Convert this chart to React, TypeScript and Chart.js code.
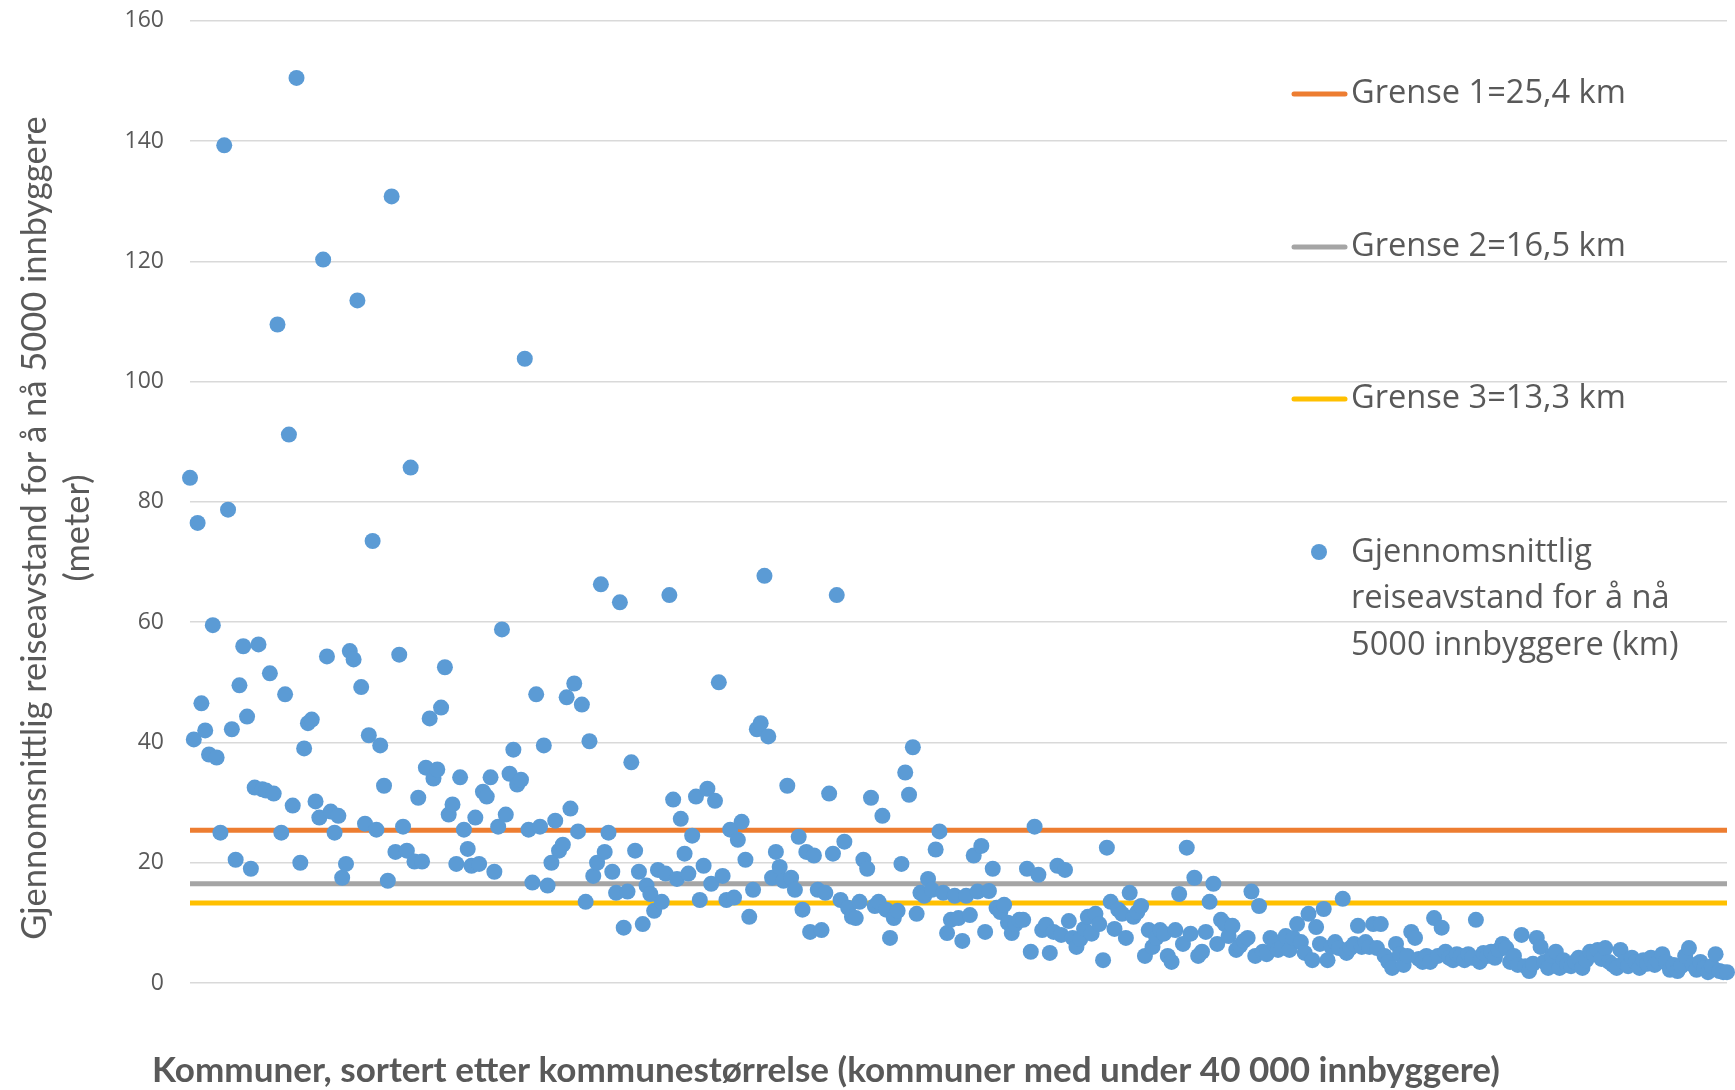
import React, { useEffect, useRef } from "react";
import { Chart, registerables } from "chart.js";

Chart.register(...registerables);

// Average travel distance (km) to reach 5000 inhabitants, municipalities sorted by size
const valuesA = [
  84, 40.5, 76.5, 46.5, 42, 38, 59.5, 37.5, 25, 139.3,
  78.7, 42.2, 20.5, 49.5, 56, 44.3, 19, 32.5, 56.3, 32.2,
  32, 51.5, 31.5, 109.5, 25, 48, 91.2, 29.5, 150.5, 20,
  39, 43.2, 43.8, 30.2, 27.5, 120.3, 54.3, 28.5, 25, 27.8,
  17.5, 19.8, 55.2, 53.8, 113.5, 49.2, 26.5,
];
const valuesB = [
  41.2, 73.5, 25.5, 39.5, 32.8, 17, 130.8, 21.8, 54.6, 26,
  22, 85.7, 20.2, 30.8, 20.2, 35.8, 44, 34, 35.5, 45.8,
  52.5, 28, 29.7, 19.8, 34.2, 25.5, 22.3, 19.5, 27.5, 19.8,
  31.8, 31, 34.2, 18.5, 26, 58.8, 28, 34.8, 38.8, 33,
  33.8, 103.8, 25.5, 16.7, 48, 26, 39.5, 16.2,
];
const valuesC = [
  20, 27, 22, 23, 47.5, 29, 49.8, 25.2, 46.3, 13.5,
  40.2, 17.8, 20, 66.3, 21.8, 25, 18.5, 15, 63.3, 9.2,
  15.2, 36.7, 22, 18.5, 9.8, 16.2, 14.8, 12, 18.8, 13.5,
  18.2, 64.5, 30.5, 17.3, 27.3, 21.5, 18.2, 24.5, 31, 13.8,
  19.5, 32.3, 16.5, 30.3, 50, 17.8, 13.8, 25.5, 14.2,
];
const valuesD = [
  23.8, 26.8, 20.5, 11, 15.5, 42.2, 43.2, 67.7, 41, 17.5,
  21.8, 19.3, 17, 32.8, 17.5, 15.5, 24.3, 12.2, 21.8, 8.5,
  21.2, 15.5, 8.8, 15, 31.5, 21.5, 64.5, 13.8, 23.5, 12.5,
  11, 10.8, 13.5, 20.5, 19, 30.8, 12.8, 13.5, 27.8, 12.2,
  7.5, 10.8, 12, 19.8, 35, 31.3, 39.2, 11.5, 15,
];
const valuesE = [
  14.5, 17.3, 15.5, 22.2, 25.2, 15, 8.3, 10.5, 14.5, 10.8,
  7, 14.5, 11.3, 21.2, 15.2, 22.8, 8.5, 15.3, 19, 12.5,
  11.8, 13, 10, 8.3, 9.8, 10.5, 10.5, 19, 5.2, 26,
  18, 8.8, 9.7, 5, 8.5, 19.5, 8, 18.8, 10.3, 7.5,
  6, 7.3, 9, 11, 8.2, 11.5, 9.8, 3.8,
];
const valuesF = [
  22.5, 13.5, 9, 12.2, 11.5, 7.5, 15, 11, 11.8, 12.8,
  4.5, 8.8, 6, 7.5, 8.8, 8.2, 4.5, 3.5, 8.8, 14.8,
  6.5, 22.5, 8.2, 17.5, 4.5, 5.2, 8.5, 13.5, 16.5, 6.5,
  10.5, 9.8, 7.8, 9.5, 5.5, 6.2, 7, 7.5, 15.2, 4.5,
  12.8, 5.2, 4.8, 7.5, 6.5, 5.5, 6, 7.8,
];
const valuesG = [
  5.5, 7.5, 9.8, 6.8, 5, 11.5, 3.8, 9.3, 6.5, 12.3,
  3.8, 6, 6.8, 5.8, 14, 5, 5.8, 6.5, 9.5, 6,
  6.8, 6, 9.8, 5.8, 9.8, 4.5, 3.5, 2.5, 6.5, 4.8,
  3, 4.5, 8.5, 7.5, 4, 3.5, 4.5, 3.5, 10.8, 4.5,
  9.2, 5.2, 4.2, 3.8, 4.8, 4.5, 3.8, 4.8, 4.2,
];
const valuesH = [
  10.5, 3.5, 5, 4.5, 5.2, 4.2, 5.5, 6.5, 5.8, 3.5,
  4.5, 3, 8, 2.8, 2, 3.2, 7.5, 6, 3.5, 2.5,
  4.5, 5.2, 2.5, 3.8, 3, 2.8, 3.5, 4.2, 2.5, 3.8,
  5.2, 4.8, 5.5, 4, 5.8, 3.5, 3, 2.5, 5.5, 3.5,
  2.8, 4.2, 3.5, 2.5, 3.8, 3.2, 4.2, 3, 3.5, 4.8,
  3.5, 2.2, 3, 2, 2.8, 4.5, 5.8, 3, 2.2, 3.5,
  2.5, 1.8, 2.8, 4.8, 2, 1.8, 1.8,
];

const distances = [
  ...valuesA, ...valuesB, ...valuesC, ...valuesD,
  ...valuesE, ...valuesF, ...valuesG, ...valuesH,
];

const thresholds = [25.4, 16.5, 13.3];
const thresholdLabels = ["Grense 1=25,4 km", "Grense 2=16,5 km", "Grense 3=13,3 km"];
const thresholdColors = ["#ED7D31", "#A5A5A5", "#FFC000"];
const scatterLabelLines = ["Gjennomsnittlig", "reiseavstand for å nå", "5000 innbyggere (km)"];
const scatterColor = "#5B9BD5";
const yTitleLines = ["Gjennomsnittlig reiseavstand for å nå 5000 innbyggere", "(meter)"];
const xTitle = "Kommuner, sortert etter kommunestørrelse (kommuner med under 40 000 innbyggere)";
const yTicks = [0, 20, 40, 60, 80, 100, 120, 140, 160];

const TEXT = "#595959";
const W = 1735;
const H = 1090;
const SHIFT = 19; // canvas extends above the page top by this much

function fitSize(ctx: CanvasRenderingContext2D, text: string, family: string, weight: string, target: number) {
  ctx.font = `${weight} 100px ${family}`;
  const w = ctx.measureText(text).width;
  return (100 * target) / w;
}

const overlayPlugin = {
  id: "overlay",
  afterDraw(chart: any) {
    const ctx: CanvasRenderingContext2D = chart.ctx;
    ctx.save();
    ctx.translate(0, SHIFT);
    ctx.fillStyle = TEXT;

    // Y axis title (two rotated lines)
    const yFam = "Lato, 'Liberation Sans', sans-serif";
    const ySize = fitSize(ctx, yTitleLines[0], yFam, "normal", 824);
    ctx.font = `normal ${ySize}px ${yFam}`;
    ctx.textAlign = "center";
    ctx.textBaseline = "middle";
    const yCenters = [35, 78];
    yTitleLines.forEach((line, i) => {
      ctx.save();
      ctx.translate(yCenters[i], 528);
      ctx.rotate(-Math.PI / 2);
      ctx.fillText(line, 0, 0);
      ctx.restore();
    });

    // X axis title
    const xSize = fitSize(ctx, xTitle, yFam, "bold", 1348);
    ctx.font = `bold ${xSize}px ${yFam}`;
    ctx.textAlign = "center";
    ctx.fillText(xTitle, 826, 1071);

    // Legend
    const lFam = "'Open Sans', sans-serif";
    const lSize = fitSize(ctx, thresholdLabels[0], lFam, "normal", 275);
    ctx.font = `normal ${lSize}px ${lFam}`;
    ctx.textAlign = "left";
    const rows = [94, 247, 399];
    thresholdLabels.forEach((label, i) => {
      ctx.strokeStyle = thresholdColors[i];
      ctx.lineWidth = 5;
      ctx.lineCap = "round";
      ctx.beginPath();
      ctx.moveTo(1294, rows[i]);
      ctx.lineTo(1345, rows[i]);
      ctx.stroke();
      ctx.fillStyle = TEXT;
      ctx.fillText(label, 1351, rows[i]);
    });
    ctx.fillStyle = scatterColor;
    ctx.beginPath();
    ctx.arc(1319, 552, 8, 0, Math.PI * 2);
    ctx.fill();
    ctx.fillStyle = TEXT;
    const sRows = [553, 599, 646];
    scatterLabelLines.forEach((line, i) => ctx.fillText(line, 1351, sRows[i]));

    ctx.restore();
  },
};

export default function App() {
  const ref = useRef<HTMLCanvasElement | null>(null);

  useEffect(() => {
    document.body.style.margin = "0";
    const canvas = ref.current;
    if (!canvas) return;
    const n = distances.length;
    const chart = new Chart(canvas, {
      type: "scatter",
      data: {
        datasets: [
          {
            label: "Gjennomsnittlig reiseavstand for å nå 5000 innbyggere (km)",
            data: distances.map((v, i) => ({ x: i + 1, y: v })),
            backgroundColor: scatterColor,
            borderColor: scatterColor,
            borderWidth: 0,
            pointRadius: 8,
            pointHoverRadius: 8,
            clip: false as any,
          },
          ...thresholds.map((t, i) => ({
            label: thresholdLabels[i],
            data: [
              { x: 1, y: t },
              { x: n, y: t },
            ],
            showLine: true,
            borderColor: thresholdColors[i],
            backgroundColor: thresholdColors[i],
            borderWidth: 5,
            pointRadius: 0,
            pointHoverRadius: 0,
          })),
        ],
      },
      options: {
        responsive: false,
        animation: false,
        layout: { padding: { top: 2, bottom: 107, left: 0, right: 0 } },
        plugins: {
          legend: { display: false },
          tooltip: { enabled: false },
        },
        scales: {
          x: {
            type: "linear",
            min: 1,
            max: n,
            display: false,
          },
          y: {
            type: "linear",
            min: yTicks[0],
            max: yTicks[yTicks.length - 1],
            afterFit: (scale: any) => {
              scale.width = 190;
            },
            afterBuildTicks: (scale: any) => {
              scale.ticks = yTicks.map((v) => ({ value: v }));
            },
            border: { display: false },
            grid: {
              color: "#D9D9D9",
              lineWidth: 1.6,
              drawTicks: false,
            },
            ticks: {
              padding: 26,
              color: TEXT,
              font: { family: "'Open Sans', sans-serif", size: 23 },
            },
          },
        },
      },
      plugins: [overlayPlugin],
    });
    return () => chart.destroy();
  }, []);

  return (
    <div style={{ width: W, height: H, background: "#fff", overflow: "hidden" }}>
      <canvas
        ref={ref}
        width={W}
        height={H + SHIFT}
        style={{ display: "block", marginTop: -SHIFT }}
      />
    </div>
  );
}
